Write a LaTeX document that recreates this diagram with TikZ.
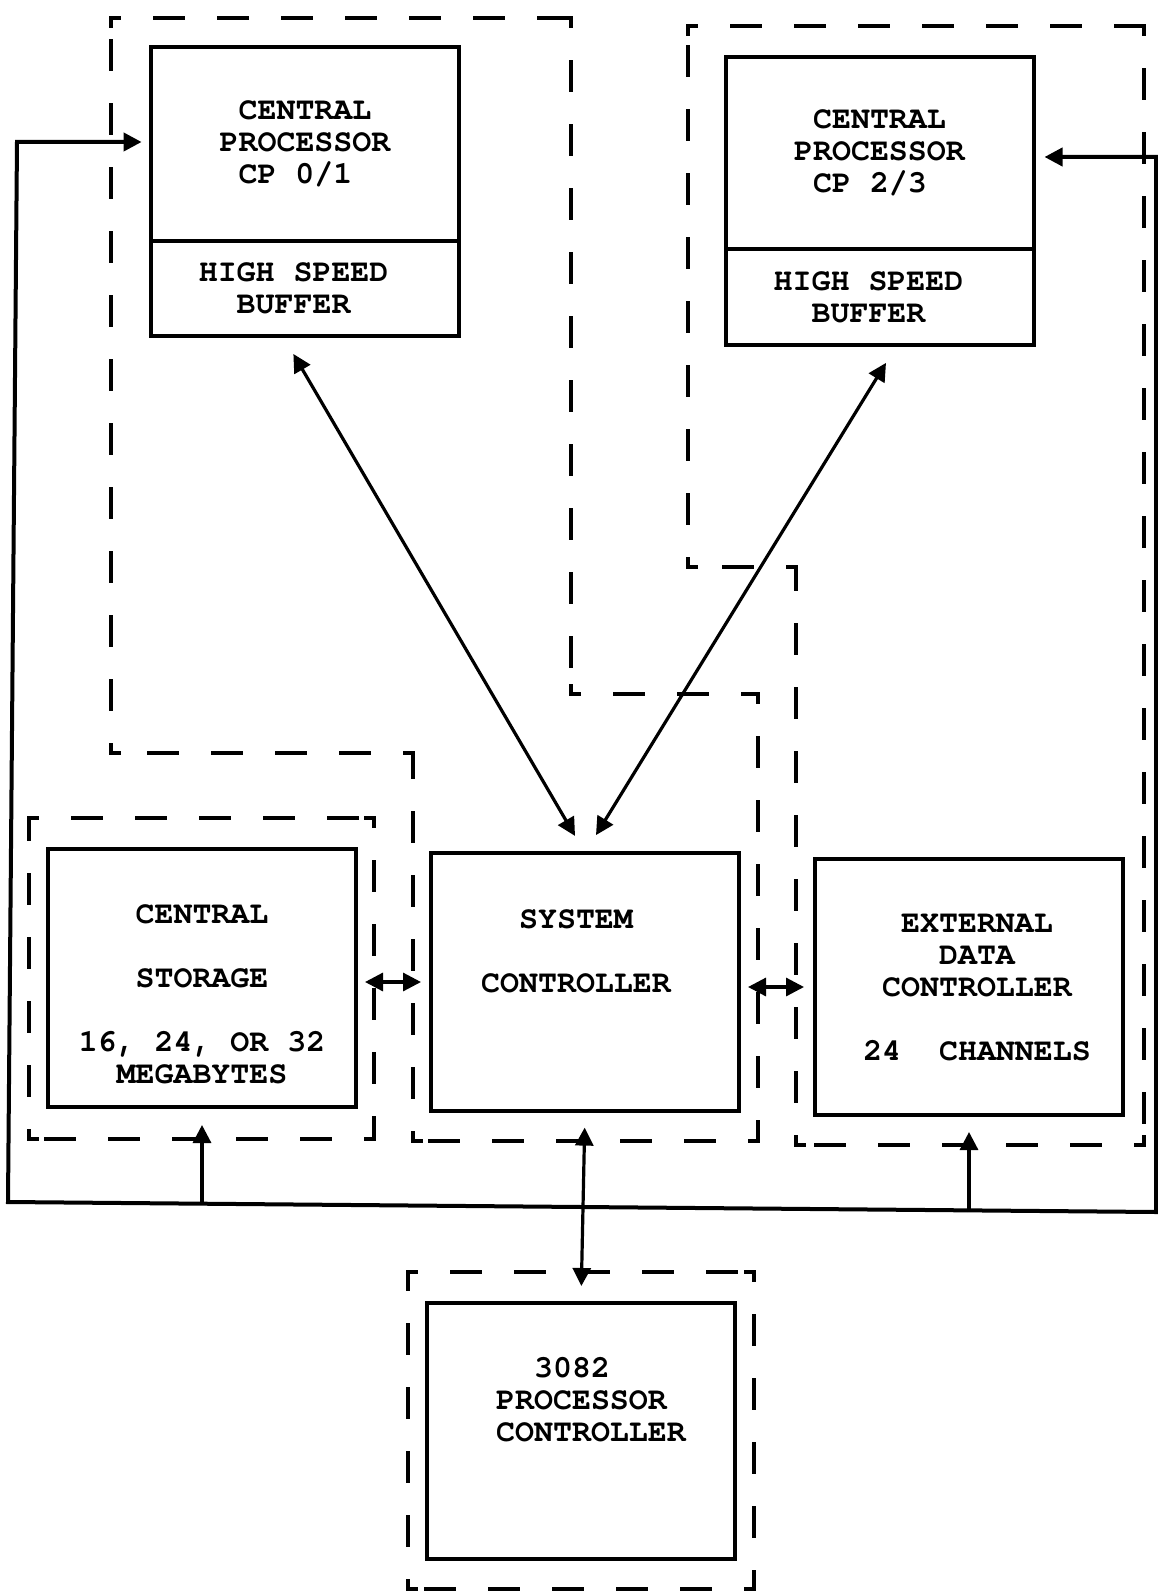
\documentclass[tikz,border=0pt]{standalone}
\usepackage{fontspec}
\setmonofont{TeX Gyre Cursor}
\usepackage{tikz}
\usetikzlibrary{arrows.meta, positioning, calc, decorations.pathreplacing}

\newcommand{\rotulo}{\ttfamily\bfseries\fontsize{15.8pt}{16pt}\selectfont}

% tramo de recuadro punteado: rayas segun orientacion + esquina al final
\newcommand{\grptramo}{%
  \pgfpointdiff{\tikzinputsegmentfirst}{\tikzinputsegmentlast}%
  \pgfgetlastxy{\tramodx}{\tramody}%
  \pgfmathparse{abs(\tramodx)>abs(\tramody)}%
  \ifdim\pgfmathresult pt>0.5pt \tikzset{tramo/.style={hdash}}\else\tikzset{tramo/.style={vdash}}\fi
  \draw[tramo] (\tikzinputsegmentfirst) -- (\tikzinputsegmentlast);
  \draw[esquina] (\tikzinputsegmentlast) -- ($(\tikzinputsegmentlast)!4pt!(\tikzinputsegmentfirst)$);%
}

\begin{document}
\begin{tikzpicture}[x=0.5pt, y=-0.5pt,
            caja/.style  ={draw, line width=2pt, minimum width=154pt, inner sep=0pt,
                           outer sep=0pt, align=center, font=\rotulo},
            txt/.style   ={align=center, inner sep=0pt, font=\rotulo},
            arr/.style   ={-{Triangle[length=9pt, width=9pt]}, line width=1.6pt},
            darr/.style  ={{Triangle[length=9pt, width=9pt]}-{Triangle[length=9pt, width=9pt]}, line width=1.6pt},
            bus/.style   ={darr, line width=2pt},
            grp/.style   ={decoration={show path construction, lineto code=\grptramo}, decorate},
            hdash/.style ={line width=1.6pt, line cap=rect, dash pattern=on 8pt off 11pt, dash phase=4.3pt},
            vdash/.style ={line width=1.6pt, line cap=rect, dash pattern=on 14.5pt off 17.5pt, dash phase=10.3pt},
            esquina/.style={line width=1.6pt, line cap=rect}
        ]
            \useasboundingbox (0,0) rectangle (1157,1593);

            % --- Procesadores (fila superior) ---
            \node[caja, minimum height=97pt] (cpu01) at (305,144) {CENTRAL\\PROCESSOR\\CP 0/1\phantom{0}};
            \node[caja, minimum height=47.5pt, below=0pt of cpu01,
                  label={[txt, xshift=-5.7pt]center:{HIGH SPEED\\BUFFER}}] (buf01) {};
            \node[caja, minimum height=96pt] (cpu23) at (879.5,153) {CENTRAL\\PROCESSOR\\CP 2/3\phantom{0}};
            \node[caja, minimum height=48pt, below=0pt of cpu23,
                  label={[txt, xshift=-5.5pt]center:{HIGH SPEED\\BUFFER}}] (buf23) {};

            % --- Fila inferior ---
            \node[caja, minimum height=129pt,
                  label={[txt, yshift=-8.25pt]center:{CENTRAL\\[16pt]STORAGE\\[16pt]16, 24, OR 32\\MEGABYTES}}] (almacen) at (202,978) {};
            \node[caja, minimum height=129pt,
                  label={[txt, xshift=-4.5pt, yshift=15.5pt]center:{SYSTEM\\[16pt]CONTROLLER}}] (sistema) at (585,982) {};
            \node[caja, minimum height=128pt,
                  label={[txt, xshift=4pt]center:{EXTERNAL\\DATA\\CONTROLLER\\[16pt]24~~CHANNELS}}] (externo) at (969,987) {};
            \node[caja, minimum height=128pt,
                  label={[txt, align=left, xshift=5pt, yshift=15.5pt]center:{\phantom{PR}3082\\PROCESSOR\\CONTROLLER}}] (consola) at (581,1431) {};

            % --- Recuadros punteados ---
            \path[grp] (111,18) -- (571,18) -- (571,694) -- (758,694) -- (758,1141) -- (413,1141) -- (413,753) -- (111,753) -- (111,18);
            \path[grp] (688,26) -- (1144,26) -- (1144,1145) -- (796,1145) -- (796,567) -- (688,567) -- (688,26);
            \path[grp] (29,818) -- (374,818) -- (374,1139) -- (29,1139) -- (29,818);
            \path[grp] (408,1272) -- (754,1272) -- (754,1589) -- (408,1589) -- (408,1272);

            % --- Bus exterior ---
            \coordinate (tl) at (17,142);
            \coordinate (bl) at (8,1202);
            \coordinate (br) at (1156,1212);
            \coordinate (tr) at (1156,157);
            \draw[bus, shorten <=4.7pt, shorten >=5.5pt] (tl -| cpu01.west) -- (tl) -- (bl) -- (br) -- (tr) -- (tr -| cpu23.east);
            \draw[arr, shorten >=9pt]   (almacen.south |- bl) -- (almacen.south);
            \draw[arr, shorten >=8.5pt] (externo.south |- br) -- (externo.south);

            % --- Enlaces con el controlador del sistema ---
            \draw[darr, shorten <=10.4pt, shorten >=9.9pt] (buf01.245.6) -- (sistema.north);
            \draw[darr, shorten <=10.5pt, shorten >=10.5pt] (buf23.290) -- (sistema.north);
            \draw[darr, shorten <=4.5pt, shorten >=5pt] (sistema.west -| almacen.east) -- (sistema.west);
            \draw[darr, shorten <=4.5pt, shorten >=5.5pt] (externo.west -| sistema.east) -- (externo.west);
            \draw[darr, shorten <=8.3pt, shorten >=8.5pt] (sistema.south) -- (consola.north);
        \end{tikzpicture}
\end{document}
